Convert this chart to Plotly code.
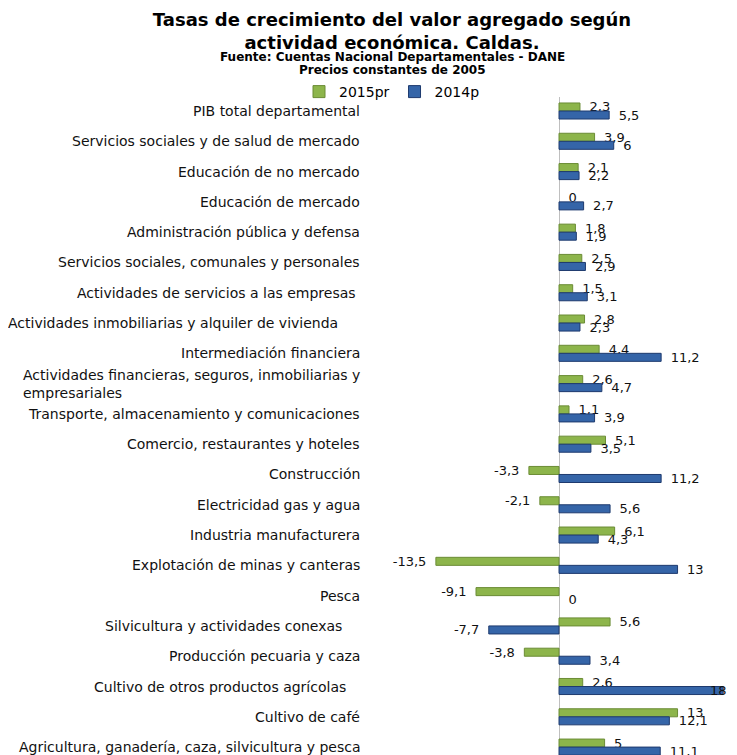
import plotly.graph_objects as go

categories = [
    "PIB total departamental",
    "Servicios sociales y de salud de mercado",
    "Educación de no mercado",
    "Educación de mercado",
    "Administración pública y defensa",
    "Servicios sociales, comunales y personales",
    "Actividades de servicios a las empresas",
    "Actividades inmobiliarias y alquiler de vivienda",
    "Intermediación financiera",
    "Actividades financieras, seguros, inmobiliarias y<br>empresariales",
    "Transporte, almacenamiento y comunicaciones",
    "Comercio, restaurantes y hoteles",
    "Construcción",
    "Electricidad gas y agua",
    "Industria manufacturera",
    "Explotación de minas y canteras",
    "Pesca",
    "Silvicultura y actividades conexas",
    "Producción pecuaria y caza",
    "Cultivo de otros productos agrícolas",
    "Cultivo de café",
    "Agricultura, ganadería, caza, silvicultura y pesca",
]
# trailing spaces as in the original labels
label_suffix = ["", "", "", "", "", "", " ", "     ", "", "", "", "", "", "", "", "", "",
                "    ", "", "   ", "", ""]

v2015 = [2.3, 3.9, 2.1, 0, 1.8, 2.5, 1.5, 2.8, 4.4, 2.6, 1.1, 5.1, -3.3, -2.1, 6.1,
         -13.5, -9.1, 5.6, -3.8, 2.6, 13, 5]
v2014 = [5.5, 6, 2.2, 2.7, 1.9, 2.9, 3.1, 2.3, 11.2, 4.7, 3.9, 3.5, 11.2, 5.6, 4.3,
         13, 0, -7.7, 3.4, 18, 12.1, 11.1]

series_names = ["2015pr", "2014p"]

FONT = "DejaVu Sans"
OFF = 8          # page body margin: the figure is drawn 8px right/down
W, H = 737 - OFF, 755
TOP = 97 - OFF   # plot area top (figure px)
ZERO_X = 559 - OFF
PX_PER_UNIT = 9.12
ROW0_Y = 111 - OFF
ROW_H = 30.29
X_MAX = (W - ZERO_X) / PX_PER_UNIT


def fmt(v):
    return ("%g" % v).replace(".", ",")


def lab(v):
    s = fmt(v)
    return "\u2002" + s if v >= 0 else s + "\u2002"


def fits(v):
    # labels of bars reaching the chart edge are pushed back inside (drawn as annotation)
    return ZERO_X + v * PX_PER_UNIT + 28 < W


def paper_y(px):  # figure px from top -> paper y (b=0)
    return (H - px) / (H - TOP)


fig = go.Figure()
specs = [
    (v2015, series_names[0], "#8DB54B", "#6B8C35"),
    (v2014, series_names[1], "#3565A8", "#1E3A6E"),
]
annotations = []
for vals, name, col, edge in specs:
    fig.add_trace(go.Bar(
        y=categories, x=vals, orientation="h", name=name,
        marker=dict(color=col, line=dict(color=edge, width=[0 if v == 0 else 1 for v in vals])),
        text=[lab(v) if fits(v) else "" for v in vals], textposition="outside",
        constraintext="none", textfont=dict(family=FONT, size=13, color="#111"),
        cliponaxis=False,
    ))
    for c, v in zip(categories, vals):
        if not fits(v):
            annotations.append(dict(
                x=1, xref="paper", y=c, yref="y", xanchor="right", yanchor="middle",
                xshift=-9, yshift=-4 if name == series_names[1] else 4,
                text=fmt(v), showarrow=False, borderpad=0,
                font=dict(family=FONT, size=13, color="#111"),
            ))

for c, suf in zip(categories, label_suffix):
    annotations.append(dict(
        x=(362 - OFF) / W, xref="paper", y=c, yref="y", xanchor="right", yanchor="middle",
        text=c + suf.replace(" ", "\u00a0"), showarrow=False, align="left",
        font=dict(family=FONT, size=14, color="#111"),
    ))
annotations.append(dict(
    x=(392 - OFF) / W, xref="paper", y=paper_y(57 - OFF), yref="paper", xanchor="center",
    yanchor="middle", showarrow=False,
    text="<b>Fuente: Cuentas Nacional Departamentales - DANE</b>",
    font=dict(family=FONT, size=12, color="#000"),
))
annotations.append(dict(
    x=(392 - OFF) / W, xref="paper", y=paper_y(70 - OFF), yref="paper", xanchor="center",
    yanchor="middle", showarrow=False,
    text="<b>Precios constantes de 2005</b>",
    font=dict(family=FONT, size=12, color="#000"),
))

fig.update_layout(
    width=W, height=H,
    margin=dict(l=0, r=0, t=TOP, b=0, autoexpand=False),
    paper_bgcolor="white", plot_bgcolor="white",
    barmode="group", bargap=0.47, bargroupgap=0,
    title=dict(
        text="<b>Tasas de crecimiento del valor agregado según<br>actividad económica. Caldas.</b>",
        x=(392 - OFF) / W, xanchor="center", y=1 - 18 / H, yanchor="middle",
        font=dict(family=FONT, size=18, color="#000"),
    ),
    legend=dict(
        orientation="h", x=(392 - OFF) / W, xanchor="center", yref="container",
        y=1 - (92 - OFF) / H, yanchor="middle", font=dict(family=FONT, size=14, color="#000"),
        traceorder="normal", itemwidth=30,
    ),
    xaxis=dict(
        range=[-ZERO_X / PX_PER_UNIT, X_MAX], showgrid=False,
        showticklabels=False, zeroline=True, zerolinecolor="#BFBFBF", zerolinewidth=1,
        showline=False, fixedrange=True,
    ),
    yaxis=dict(
        categoryorder="array", categoryarray=categories,
        range=[(H - ROW0_Y) / ROW_H, -(ROW0_Y - TOP) / ROW_H], showticklabels=False,
        showgrid=False, showline=False, zeroline=False, ticks="",
    ),
    annotations=annotations,
    font=dict(family=FONT),
)

fig.write_html("out.html")
